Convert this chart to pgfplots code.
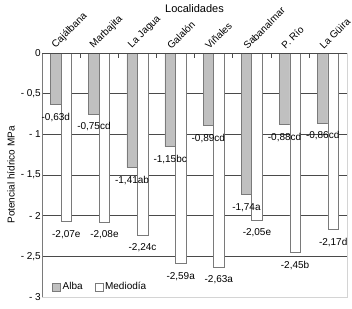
\documentclass[border=0pt]{standalone}
\usepackage{pgfplots}
\pgfplotsset{compat=1.18}
\usepackage{pgfplotstable}
\usepackage{fontspec}
\setmainfont{Liberation Sans}
\definecolor{albagray}{HTML}{C0C0C0}
\definecolor{edgegray}{HTML}{7A7A7A}
\definecolor{gridgray}{HTML}{4A4A4A}
\definecolor{framegray}{HTML}{D4D4D4}

\pgfplotstableread{
x y lab
0 -0.63 {-0,63d}
1 -0.75 {-0,75cd}
2 -1.41 {-1,41ab}
3 -1.15 {-1,15bc}
4 -0.89 {-0,89cd}
5 -1.74 {-1,74a}
6 -0.88 {-0,88cd}
7 -0.86 {-0,86cd}
}\alba
\pgfplotstableread{
x y lab
0 -2.07 {-2,07e}
1 -2.08 {-2,08e}
2 -2.24 {-2,24c}
3 -2.59 {-2,59a}
4 -2.63 {-2,63a}
5 -2.05 {-2,05e}
6 -2.45 {-2,45b}
7 -2.17 {-2,17d}
}\mediodia

\begin{document}
\begin{tikzpicture}
\useasboundingbox (0,0) rectangle (352pt,-308pt);
\begin{axis}[
  at={(42pt,-53pt)}, anchor=north west,
  scale only axis, width=305pt, height=244pt,
  ybar=0pt, bar width=10.5pt,
  xmin=-0.5, xmax=7.5, ymin=-3, ymax=0,
  axis line style={draw=none},
  xtick={0,...,7},
  xticklabels={Cajálbana,Marbajita,La Jagua,Galalón,Viñales,Sabanalmar,P. Río,La Güira},
  major x tick style={draw=none},
  minor xtick={0.5,1.5,...,7.5},
  minor x tick style={draw=gridgray, thin},
  minor tick length=5pt,
  xtick pos=upper, xticklabel pos=upper,
  tick align=inside,
  xticklabel style={xshift=-4pt, yshift=3pt, rotate=45, anchor=south west, inner sep=0pt, font=\fontsize{10}{11}\selectfont},
  ytick={0,-0.5,...,-3},
  yticklabels={0,{- 0,5},{- 1},{- 1,5},{- 2},{- 2,5},{- 3}},
  ytick pos=left,
  y tick style={draw=gridgray, thin},
  yticklabel style={font=\fontsize{10}{11}\selectfont, inner sep=1pt},
  major tick length=4pt,
  ymajorgrids, grid style={gridgray, line width=0.5pt},
  legend style={draw=none, fill=none, at={(0.033,0.042)}, anchor=west, legend columns=2,
    font=\fontsize{10}{11}\selectfont, inner sep=0pt,
    /tikz/every even column/.append style={column sep=10pt}},
  legend image code/.code={\draw[#1] (0pt,-4pt) rectangle (8pt,4pt);},
  clip=false,
]
\addplot[fill=albagray, draw=edgegray, bar shift=-5.25pt] table[x=x,y=y] {\alba};
\addlegendentry{Alba}
\addplot[fill=white, draw=edgegray, bar shift=5.25pt] table[x=x,y=y] {\mediodia};
\addlegendentry{Mediodía}
\addplot[draw=none, fill=none, bar shift=-5.25pt, forget plot,
  point meta=explicit symbolic, nodes near coords,
  every node near coord/.append style={font=\fontsize{10}{11}\selectfont, inner sep=0pt, anchor=north, yshift=-8.5pt, text=black}]
  table[x=x,y=y,meta=lab] {\alba};
\addplot[draw=none, fill=none, bar shift=5.25pt, forget plot,
  point meta=explicit symbolic, nodes near coords,
  every node near coord/.append style={font=\fontsize{10}{11}\selectfont, inner sep=0pt, anchor=north, yshift=-8.5pt, text=black}]
  table[x=x,y=y,meta=lab] {\mediodia};
\draw[framegray, line width=0.8pt] (rel axis cs:1,1) -- (rel axis cs:1,0) -- (rel axis cs:0,0);
\draw[edgegray, line width=0.6pt] (rel axis cs:0,0) -- (rel axis cs:0,1);
\draw[gridgray, line width=0.6pt] (rel axis cs:0,1) -- (rel axis cs:1,1);
\node[font=\fontsize{11}{13}\selectfont, anchor=north] at (rel axis cs:0.5,1) [yshift=52pt] {Localidades};
\node[font=\fontsize{10}{12}\selectfont, rotate=90, anchor=center] at ([xshift=-31pt]rel axis cs:0,0.5) {Potencial hídrico MPa};
\end{axis}
\end{tikzpicture}
\end{document}
